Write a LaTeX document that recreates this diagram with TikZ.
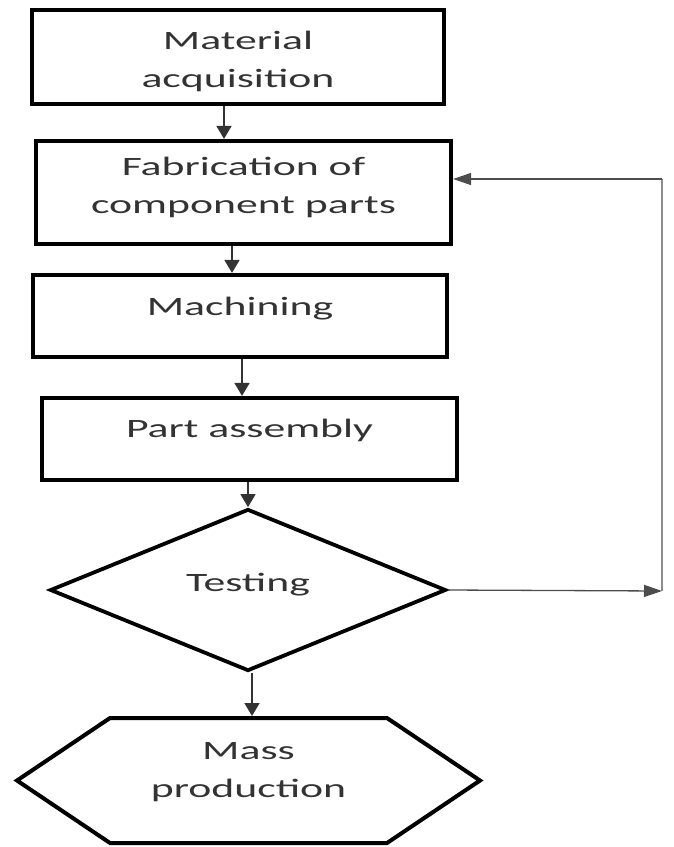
\documentclass[tikz,border=0pt]{standalone}
\usepackage{fontspec}
\setmainfont{Carlito}[FakeStretch=1.65]
\usetikzlibrary{arrows.meta,shapes.geometric}
\begin{document}
\begin{tikzpicture}[x=1pt,y=-1pt,
  every node/.style={inner sep=0pt},
  txt/.style={font=\fontsize{26.5}{38}\selectfont, text=black!80, align=center},
  procbox/.style={draw=black, line width=4.2pt, rectangle, txt},
  decision/.style={draw=black, line width=3.8pt, diamond, txt},
  hexbox/.style={rectangle, outer sep=0pt, txt},
  hexborder/.style={draw=black, line width=4pt, line join=miter},
  flow/.style={line width=1.7pt, draw=black!80, -{Triangle[length=13pt,width=15pt]}},
  back/.style={line width=1.3pt, draw=black!70},
  backtip/.style={back, -{Triangle[length=18pt,width=12pt]}}]

\useasboundingbox (0,0) rectangle (673,847);

\node[procbox, minimum width=412pt, minimum height=94pt, text height=60pt, text depth=0pt]
  (mat) at (238,57) {Material\\acquisition};
\node[procbox, minimum width=415pt, minimum height=103pt, text height=58pt, text depth=17pt]
  (fab) at (243.5,192.5) {Fabrication of\\component parts};
\node[procbox, minimum width=414pt, minimum height=82pt, text height=20pt, text depth=22pt]
  (mach) at (240,316) {Machining};
\node[procbox, minimum width=415pt, minimum height=82pt, text height=20pt, text depth=24pt]
  (part) at (249.5,439) {Part assembly};
\node[decision, minimum width=396pt, minimum height=162pt, text height=20pt, text depth=18pt]
  (test) at (248,590) {Testing};
\node[hexbox, minimum width=463pt, minimum height=125pt, text height=58pt, text depth=25pt]
  (hex) at (248.5,780.5) {Mass\\production};
\draw[hexborder] (hex.west) -- ([xshift=93pt]hex.north west) -- ([xshift=-93pt]hex.north east)
  -- (hex.east) -- ([xshift=-93pt]hex.south east) -- ([xshift=93pt]hex.south west) -- cycle;

\coordinate (fbA) at (662,591);
\coordinate (fbB) at (662,179);

\draw[flow] ([xshift=-14pt]mat.south) -- ([xshift=-14pt]mat.south |- fab.north);
\draw[flow] ([xshift=-11.5pt]fab.south) -- ([xshift=-11.5pt]fab.south |- mach.north);
\draw[flow] ([xshift=2pt]mach.south) -- ([xshift=2pt]mach.south |- part.north);
\draw[flow] (part.south -| test.north) -- (test.north);
\draw[flow, shorten >=2pt] ([xshift=4pt]test.south) -- ([xshift=4pt]test.south |- hex.north);

\draw[backtip] (test.east) -- (fbA);
\draw[back, draw=black!45, line width=2.2pt] (fbA) -- (fbB);
\draw[backtip] (fbB) -- (fab.east |- fbB);
\end{tikzpicture}
\end{document}
